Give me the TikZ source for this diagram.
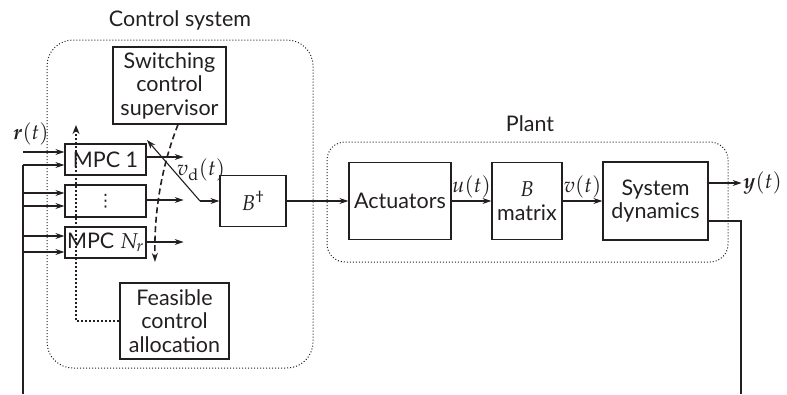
\documentclass[tikz,border=0pt]{standalone}
\usepackage{amsmath,amssymb}
\usepackage{mathpazo}
\usepackage[no-math]{fontspec}
\setmainfont{Lato}
\newfontfamily\symfont{DejaVu Sans}
\usetikzlibrary{positioning,arrows.meta}
\definecolor{ink}{HTML}{231F20}

\begin{document}
\begin{tikzpicture}[x=1pt, y=-1pt,
		font=\fontsize{21.5}{23.5}\selectfont, color=ink,
		every node/.style={inner sep=1pt},
		block/.style={draw, line width=1.2pt, align=center, inner sep=1pt},
		link/.style={-{Stealth[length=9pt,width=6pt]}, line width=1.1pt},
		group/.style={draw, dotted, line width=1pt}
		]
		\useasboundingbox (0,0) rectangle (787,394);
		% control system
		\draw[group, rounded corners=26pt] (47,40) rectangle (313,368);
		\node (ctrllbl) at (180,20) {Control system};
		\node[block, minimum width=113pt, minimum height=77pt] (sup) at (169.5,85.5) {Switching\\control\\supervisor};
		\node[block, minimum width=81pt, minimum height=31pt] (mpc1) at (105.5,159.5) {MPC 1};
		\node[block, minimum width=81pt, minimum height=32pt] (mpcd) at (105.5,201) {{\symfont\fontsize{17}{17}\selectfont ⋮}};
		\node[block, minimum width=81pt, minimum height=31pt] (mpcn) at (105.5,242.5) {MPC $N_r$};
		\node[block, minimum width=66pt, minimum height=51pt] (bdag) at (253,201) {$B^\dagger$};
		\node[block, minimum width=109pt, minimum height=76pt] (fca) at (174.5,321) {Feasible\\control\\allocation};
		% plant
		\draw[group, rounded corners=18pt] (327,142) rectangle (728,262);
		\node (plantlbl) at (530,124) {Plant};
		\node[block, minimum width=102pt, minimum height=77pt] (act) at (400,201) {Actuators};
		\node[block, minimum width=70pt, minimum height=77pt] (bmat) at (527,201) {$B$\\matrix};
		\node[block, minimum width=105pt, minimum height=78pt] (sysd) at (655.5,201) {System\\dynamics};

		% inputs
		\coordinate (rin) at (23,152);
		\coordinate (fbtop) at (23,165);
		\coordinate (fbl) at (23,394);
		\coordinate (fbr) at (741,394);
		\node (rlbl) at (31,134) {$\boldsymbol{r}(t)$};
		\draw[link] (rin) -- (rin -| mpc1.west);
		\draw[line width=1.1pt] (fbl) -- (fbtop);
		\foreach \b/\s in {mpc1/-5.5, mpcd/8, mpcd/-5, mpcn/6.5, mpcn/-9.5} {
			\path ([yshift=\s pt]\b.west) coordinate (tmp);
			\draw[link] (tmp -| fbtop) -- (tmp);
		}
		% controller outputs and switch
		\foreach \b/\s in {mpc1/2.5, mpcd/1, mpcn/0.5}
			\draw[link] ([yshift=\s pt]\b.east) -- ++(37,0);
		\coordinate (sw) at (200,201);
		\coordinate (swtip) at (147,140);
		\draw[link] (sw) -- (swtip);
		\draw[link] (sw) -- (bdag.west);
		\node (vdlbl) at (201,170) {$v_{\mathrm{d}}(t)$};
		% supervisor and allocation
		\coordinate (dsend) at (155,262);
		\draw[line width=1.6pt, dash pattern=on 6pt off 3.5pt, -{Stealth[length=9pt,width=6pt]}]
			([xshift=8.5pt]sup.south) .. controls (162,165) and (154,210) .. (dsend);
		\coordinate (fup) at (76,125);
		\draw[line width=2.4pt, dash pattern=on 2.4pt off 1.6pt, -{Stealth[length=9pt,width=7pt]}]
			(fca.west) -| (fup);

		% plant chain
		\draw[link] (bdag.east) -- (act.west);
		\draw[link] (act.east) -- node[above=1pt] (ulbl) {$u(t)$} (bmat.west);
		\draw[link] (bmat.east) -- node[above=1pt] (vlbl) {$v(t)$} (sysd.west);
		\draw[link] ([yshift=18pt]sysd.east) -- ++(33,0) node[right] (ylbl) {$\boldsymbol{y}(t)$};
		\draw[line width=1.1pt] ([yshift=-20pt]sysd.east) -| (fbr);
	\end{tikzpicture}
\end{document}
